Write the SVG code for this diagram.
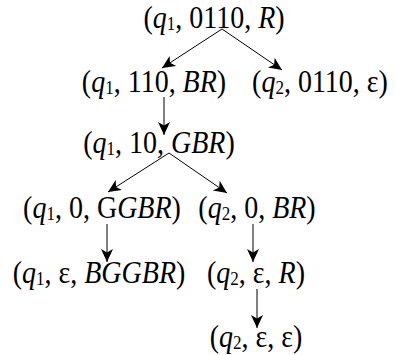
<svg xmlns="http://www.w3.org/2000/svg" width="395" height="355" viewBox="0 0 395 355">
<style>
text{font-family:"Liberation Serif","Times New Roman",serif;font-size:28px;fill:#000;text-anchor:middle}
.i{font-style:italic}
.s{font-size:17px}
.e{stroke:#000;stroke-width:1;fill:none;marker-end:url(#ah)}
</style>
<defs>
<marker id="ah" markerUnits="userSpaceOnUse" markerWidth="14" markerHeight="14" refX="13" refY="6" orient="auto" viewBox="0 0 14 12">
<path d="M0,0 L13,6 L0,12 L3.5,6 Z" fill="#000"/>
</marker>
</defs>
<rect width="395" height="355" fill="#fff"/>
<g id="connectors">
<line class="e" x1="222" y1="29" x2="162" y2="68"/>
<line class="e" x1="222" y1="29" x2="282" y2="70"/>
<line class="e" x1="164" y1="97" x2="164" y2="135"/>
<line class="e" x1="169" y1="153" x2="108" y2="192"/>
<line class="e" x1="169" y1="153" x2="227" y2="193"/>
<line class="e" x1="107" y1="224" x2="107" y2="262"/>
<line class="e" x1="253" y1="224" x2="253" y2="262"/>
<line class="e" x1="257" y1="289" x2="257" y2="328"/>
</g>
<g id="n1"><text transform="translate(214 28) scale(1 1.1)">(<tspan class="i">q</tspan><tspan class="s" dy="2">1</tspan><tspan dy="-2">, 0110, </tspan><tspan class="i">R</tspan>)</text></g>
<g id="n2"><text transform="translate(154 92) scale(1 1.1)">(<tspan class="i">q</tspan><tspan class="s" dy="2">1</tspan><tspan dy="-2">, 110, </tspan><tspan class="i">BR</tspan>)</text></g>
<g id="n3"><text transform="translate(320 92) scale(1 1.1)">(<tspan class="i">q</tspan><tspan class="s" dy="2">2</tspan><tspan dy="-2">, 0110, ε)</tspan></text></g>
<g id="n4"><text transform="translate(159 153) scale(1 1.1)">(<tspan class="i">q</tspan><tspan class="s" dy="2">1</tspan><tspan dy="-2">, 10, </tspan><tspan class="i">GBR</tspan>)</text></g>
<g id="n5"><text transform="translate(102 218) scale(1 1.1)">(<tspan class="i">q</tspan><tspan class="s" dy="2">1</tspan><tspan dy="-2">, 0, G</tspan><tspan class="i">GBR</tspan>)</text></g>
<g id="n6"><text transform="translate(257 218) scale(1 1.1)">(<tspan class="i">q</tspan><tspan class="s" dy="2">2</tspan><tspan dy="-2">, 0, </tspan><tspan class="i">BR</tspan>)</text></g>
<g id="n7"><text transform="translate(99 283) scale(1 1.1)">(<tspan class="i">q</tspan><tspan class="s" dy="2">1</tspan><tspan dy="-2">, ε, </tspan><tspan class="i">BGGBR</tspan>)</text></g>
<g id="n8"><text transform="translate(256 283) scale(1 1.1)">(<tspan class="i">q</tspan><tspan class="s" dy="2">2</tspan><tspan dy="-2">, ε, </tspan><tspan class="i">R</tspan>)</text></g>
<g id="n9"><text transform="translate(256 347) scale(1 1.1)">(<tspan class="i">q</tspan><tspan class="s" dy="2">2</tspan><tspan dy="-2">, ε, ε)</tspan></text></g>
</svg>
